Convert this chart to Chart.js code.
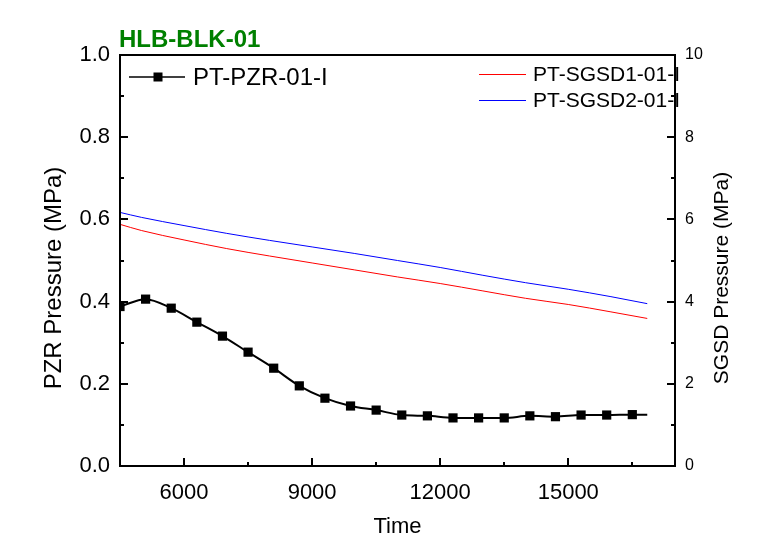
<!DOCTYPE html>
<html>
<head>
<meta charset="utf-8">
<script src="https://cdn.jsdelivr.net/npm/chart.js@4/dist/chart.umd.min.js"></script>
<style>
html,body{margin:0;padding:0;background:#fff;}
#wrap{width:769px;height:551px;position:relative;}
</style>
</head>
<body>
<div id="wrap"><canvas id="c" width="769" height="551"></canvas></div>
<script>
// ---- data ----
const pzrTime   = [4500, 5100, 5700, 6300, 6900, 7500, 8100, 8700, 9300, 9900, 10500, 11100, 11700, 12300, 12900, 13500, 14100, 14700, 15300, 15900, 16500, 16850];
const pzrValues = [0.388, 0.406, 0.384, 0.350, 0.316, 0.277, 0.238, 0.195, 0.165, 0.146, 0.136, 0.124, 0.122, 0.117, 0.117, 0.117, 0.122, 0.120, 0.124, 0.124, 0.125, 0.125];
const pzrMarker = [true, true, true, true, true, true, true, true, true, true, true, true, true, true, true, true, true, true, true, true, true, false];

const sgTime      = [4500, 5000, 6000, 7000, 8000, 9000, 10000, 11000, 12000, 13000, 14000, 15000, 16000, 16850];
const sgsd1Values = [5.88, 5.73, 5.50, 5.29, 5.11, 4.94, 4.77, 4.60, 4.44, 4.26, 4.08, 3.93, 3.75, 3.59];
const sgsd2Values = [6.17, 6.05, 5.85, 5.66, 5.49, 5.33, 5.17, 5.00, 4.83, 4.64, 4.46, 4.30, 4.12, 3.95];

const xTicks      = [6000, 9000, 12000, 15000];
const xMinor      = [7500, 10500, 13500, 16500];
const leftTicks   = [0, 0.2, 0.4, 0.6, 0.8, 1.0];
const leftLabels  = ["0.0", "0.2", "0.4", "0.6", "0.8", "1.0"];
const leftMinor   = [0.1, 0.3, 0.5, 0.7, 0.9];
const rightTicks  = [0, 2, 4, 6, 8, 10];
const rightLabels = ["0", "2", "4", "6", "8", "10"];
const rightMinor  = [1, 3, 5, 7, 9];

const chartTitle = "HLB-BLK-01";
const xTitle = "Time";
const yLeftTitle = "PZR Pressure (MPa)";
const yRightTitle = "SGSD Pressure (MPa)";
const seriesNames = ["PT-PZR-01-I", "PT-SGSD1-01-I", "PT-SGSD2-01-I"];

const FONT = "'Liberation Sans', Arial, sans-serif";

const decor = {
  id: 'decor',
  afterDatasetsDraw(chart) {
    const ctx = chart.ctx;
    const a = chart.chartArea;
    const xs = chart.scales.x, yl = chart.scales.yL, yr = chart.scales.yR;
    ctx.save();
    ctx.strokeStyle = '#000';
    ctx.lineWidth = 2;
    ctx.beginPath();
    const MAJ = 8, MIN = 4;
    xTicks.forEach(v => { const p = Math.round(xs.getPixelForValue(v)); ctx.moveTo(p, a.bottom); ctx.lineTo(p, a.bottom - MAJ); });
    xMinor.forEach(v => { const p = Math.round(xs.getPixelForValue(v)); ctx.moveTo(p, a.bottom); ctx.lineTo(p, a.bottom - MIN); });
    leftTicks.forEach(v => { const p = Math.round(yl.getPixelForValue(v)); ctx.moveTo(a.left, p); ctx.lineTo(a.left + MAJ, p); });
    leftMinor.forEach(v => { const p = Math.round(yl.getPixelForValue(v)); ctx.moveTo(a.left, p); ctx.lineTo(a.left + MIN, p); });
    rightTicks.forEach(v => { const p = Math.round(yr.getPixelForValue(v)); ctx.moveTo(a.right, p); ctx.lineTo(a.right - MAJ, p); });
    rightMinor.forEach(v => { const p = Math.round(yr.getPixelForValue(v)); ctx.moveTo(a.right, p); ctx.lineTo(a.right - MIN, p); });
    ctx.stroke();

    // legends
    ctx.fillStyle = '#000';
    ctx.textBaseline = 'middle';
    ctx.textAlign = 'left';
    ctx.lineWidth = 1.5;
    ctx.beginPath(); ctx.moveTo(129, 77); ctx.lineTo(185, 77); ctx.stroke();
    ctx.fillRect(158 - 4.5, 77 - 4.5, 9, 9);
    ctx.font = "24px " + FONT;
    ctx.fillText(seriesNames[0], 193, 78);
    ctx.lineWidth = 1;
    ctx.strokeStyle = '#ff0000';
    ctx.beginPath(); ctx.moveTo(479, 74.5); ctx.lineTo(526, 74.5); ctx.stroke();
    ctx.strokeStyle = '#0000ff';
    ctx.beginPath(); ctx.moveTo(479, 100.5); ctx.lineTo(526, 100.5); ctx.stroke();
    ctx.font = "21px " + FONT;
    ctx.fillText(seriesNames[1], 533, 75);
    ctx.fillText(seriesNames[2], 533, 101);

    // box
    ctx.strokeStyle = '#000';
    ctx.lineWidth = 2;
    ctx.strokeRect(a.left, a.top, a.right - a.left, a.bottom - a.top);

    // title
    ctx.fillStyle = '#008000';
    ctx.font = "bold 24px " + FONT;
    ctx.textBaseline = 'alphabetic';
    ctx.fillText(chartTitle, 119, 47);

    // axis titles
    ctx.fillStyle = '#000';
    ctx.textAlign = 'center';
    ctx.textBaseline = 'middle';
    ctx.font = "22px " + FONT;
    ctx.fillText(xTitle, (a.left + a.right) / 2, 527);
    ctx.save();
    ctx.translate(54, 278);
    ctx.rotate(-Math.PI / 2);
    ctx.font = "24px " + FONT;
    ctx.fillText(yLeftTitle, 0, 0);
    ctx.restore();
    ctx.save();
    ctx.translate(722, 278);
    ctx.rotate(-Math.PI / 2);
    ctx.font = "21px " + FONT;
    ctx.fillText(yRightTitle, 0, 0);
    ctx.restore();
    ctx.restore();
  }
};

new Chart(document.getElementById('c'), {
  type: 'line',
  data: {
    datasets: [
      {
        label: seriesNames[1],
        data: sgTime.map((t, i) => ({x: t, y: sgsd1Values[i]})),
        yAxisID: 'yR',
        borderColor: '#ff0000',
        borderWidth: 1,
        pointRadius: 0,
        cubicInterpolationMode: 'monotone',
        fill: false
      },
      {
        label: seriesNames[2],
        data: sgTime.map((t, i) => ({x: t, y: sgsd2Values[i]})),
        yAxisID: 'yR',
        borderColor: '#0000ff',
        borderWidth: 1,
        pointRadius: 0,
        cubicInterpolationMode: 'monotone',
        fill: false
      },
      {
        label: seriesNames[0],
        data: pzrTime.map((t, i) => ({x: t, y: pzrValues[i]})),
        yAxisID: 'yL',
        borderColor: '#000',
        backgroundColor: '#000',
        borderWidth: 2,
        pointStyle: 'rect',
        pointRadius: pzrMarker.map(m => m ? 6.5 : 0),
        pointBorderWidth: 0,
        cubicInterpolationMode: 'monotone',
        fill: false
      }
    ]
  },
  options: {
    responsive: false,
    animation: false,
    devicePixelRatio: 1,
    layout: { padding: { top: 55, left: 0, right: 0, bottom: 0 } },
    plugins: { legend: { display: false }, tooltip: { enabled: false }, title: { display: false } },
    scales: {
      x: {
        type: 'linear',
        min: 4500, max: 17500,
        grid: { display: false, drawTicks: false },
        border: { display: false },
        afterBuildTicks: s => { s.ticks = xTicks.map(v => ({value: v})); },
        afterFit: s => { s.height = 85; },
        ticks: { color: '#000', padding: 14, font: { family: FONT, size: 22 }, maxRotation: 0, autoSkip: false, callback: v => String(v) }
      },
      yL: {
        type: 'linear', position: 'left',
        min: 0, max: 1,
        grid: { display: false, drawTicks: false },
        border: { display: false },
        afterBuildTicks: s => { s.ticks = leftTicks.map(v => ({value: v})); },
        afterFit: s => { s.width = 120; },
        ticks: { color: '#000', padding: 10, font: { family: FONT, size: 22 }, autoSkip: false,
          callback: (v) => { const i = leftTicks.findIndex(t => Math.abs(t - v) < 1e-9); return i >= 0 ? leftLabels[i] : ''; } }
      },
      yR: {
        type: 'linear', position: 'right',
        min: 0, max: 10,
        grid: { display: false, drawTicks: false },
        border: { display: false },
        afterBuildTicks: s => { s.ticks = rightTicks.map(v => ({value: v})); },
        afterFit: s => { s.width = 94; },
        ticks: { color: '#000', padding: 10, font: { family: FONT, size: 16 }, autoSkip: false,
          callback: (v) => { const i = rightTicks.findIndex(t => Math.abs(t - v) < 1e-9); return i >= 0 ? rightLabels[i] : ''; } }
      }
    }
  },
  plugins: [decor]
});
</script>
</body>
</html>
